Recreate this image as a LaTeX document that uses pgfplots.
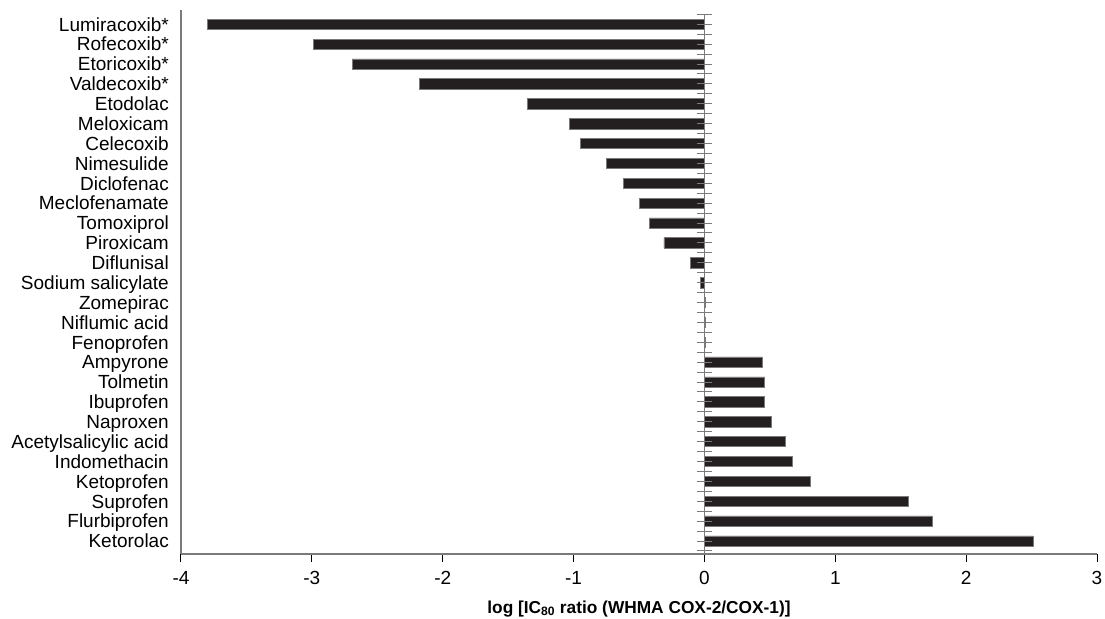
\documentclass[border=0pt]{standalone}
\usepackage{pgfplots}
\pgfplotsset{compat=1.18}
\usepackage{fontspec}
\setmainfont{Liberation Sans}
\definecolor{barblack}{HTML}{231F20}
\definecolor{axgray}{HTML}{7A7A7A}
\begin{document}
\fontsize{19bp}{22bp}\selectfont
\begin{tikzpicture}
\begin{axis}[
  name=ax,
  scale only axis,
  width=916bp, height=544bp,
  xmin=-4, xmax=3,
  ymin=-0.654, ymax=26.72,
  axis x line*=bottom,
  axis y line*=left,
  axis line style={axgray, line width=1.3bp},
  xtick={-4,-3,-2,-1,0,1,2,3},
  tick align=outside,
  x tick style={black, line width=1bp},
  major tick length=8bp,
  xticklabel style={inner sep=0pt, yshift=-9bp},
  ytick={0,...,26},
  yticklabels={Ketorolac,Flurbiprofen,Suprofen,Ketoprofen,Indomethacin,Acetylsalicylic acid,Naproxen,Ibuprofen,Tolmetin,Ampyrone,Fenoprofen,Niflumic acid,Zomepirac,Sodium salicylate,Diflunisal,Piroxicam,Tomoxiprol,Meclofenamate,Diclofenac,Nimesulide,Celecoxib,Meloxicam,Etodolac,Valdecoxib*,Etoricoxib*,Rofecoxib*,Lumiracoxib*},
  y tick style={draw=none},
  yticklabel style={inner sep=0pt, anchor=east, xshift=-4bp, text height=13.6bp, text depth=0bp},
  /pgf/number format/assume math mode=true,
  xlabel={\fontsize{17.3bp}{20bp}\selectfont\bfseries log [IC\textsubscript{80} ratio (WHMA COX-2/COX-1)]},
  xlabel style={inner sep=0pt, yshift=-16bp},
  clip=false,
]
\addplot[xbar, bar width=10.3bp, bar shift=0pt, fill=barblack, draw=axgray, line width=0.6bp] coordinates {
(2.51,0) (1.74,1) (1.56,2) (0.81,3) (0.67,4) (0.62,5) (0.51,6) (0.46,7) (0.46,8) (0.44,9)
(0.01,10) (0.01,11) (0.01,12) (-0.03,13) (-0.105,14) (-0.31,15) (-0.42,16) (-0.50,17) (-0.62,18)
(-0.75,19) (-0.95,20) (-1.03,21) (-1.35,22) (-2.18,23) (-2.69,24) (-2.99,25) (-3.80,26)
};
\addplot[axgray, line width=1.3bp] coordinates {(0,26.5) (0,-0.654)};
\addplot[only marks, mark=-, mark size=7.5bp, mark options={axgray, line width=1bp}] coordinates {
(0,-0.5) (0,0) (0,0.5) (0,1) (0,1.5) (0,2) (0,2.5) (0,3) (0,3.5) (0,4) (0,4.5) (0,5) (0,5.5)
(0,6) (0,6.5) (0,7) (0,7.5) (0,8) (0,8.5) (0,9) (0,9.5) (0,10) (0,10.5) (0,11) (0,11.5) (0,12)
(0,12.5) (0,13) (0,13.5) (0,14) (0,14.5) (0,15) (0,15.5) (0,16) (0,16.5) (0,17) (0,17.5) (0,18)
(0,18.5) (0,19) (0,19.5) (0,20) (0,20.5) (0,21) (0,21.5) (0,22) (0,22.5) (0,23) (0,23.5) (0,24)
(0,24.5) (0,25) (0,25.5) (0,26) (0,26.5)
};
\end{axis}
\pgfresetboundingbox
\path (-181bp,-65bp) rectangle (924bp,554bp);
\end{tikzpicture}
\end{document}
